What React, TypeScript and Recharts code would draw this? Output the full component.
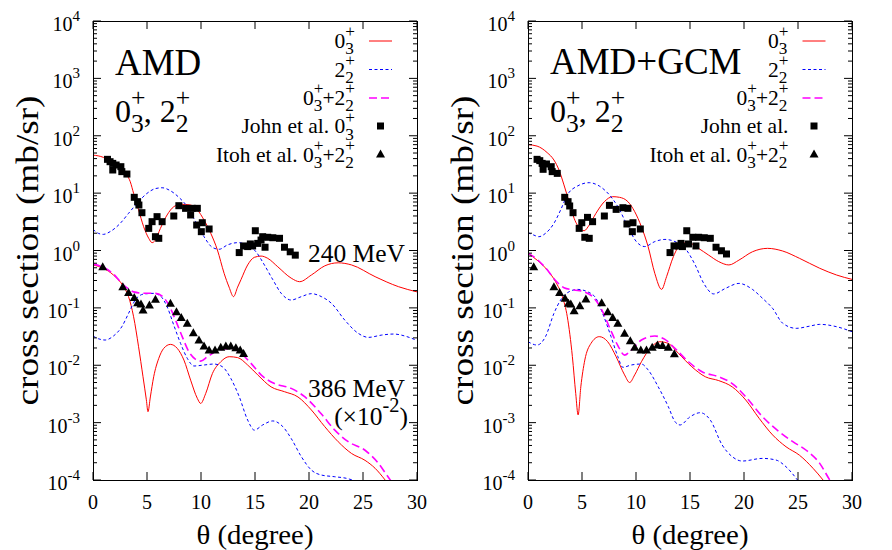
import React from "react";
import { ComposedChart, Line, Scatter, XAxis, YAxis } from "recharts";

type P = [number, number];

// ---- AMD panel ----
// 240 MeV, 0_3+ (red)
const amd240_0: P[] = [
  [0, 46], [0.96, 42], [1.89, 33], [2.67, 25.3], [3.14, 20.7], [3.45, 15.8], [3.76, 9.9], [4.22, 5.1],
  [4.69, 2.6], [5.16, 1.63], [5.47, 1.37], [5.78, 1.52], [6.24, 2.43], [6.86, 4.16], [7.48, 5.8], [8.11, 6.4],
  [9.04, 6.2], [9.66, 5.1], [10.28, 3.4], [10.9, 2.0], [11.52, 1.02], [12.14, 0.4], [12.6, 0.23], [13.01, 0.157],
  [13.39, 0.23], [13.7, 0.31], [14.32, 0.56], [14.94, 0.76], [15.56, 0.8], [16.18, 0.73], [17.11, 0.52],
  [18.35, 0.33], [19.13, 0.286], [20.22, 0.374], [21.46, 0.54], [22.7, 0.61], [23.94, 0.56], [26.12, 0.35],
  [28.29, 0.234], [30, 0.19],
];
// 240 MeV, 2_2+ (blue)
const amd240_2: P[] = [
  [0, 2.34], [0.5, 1.99], [0.96, 1.91], [1.58, 2.13], [2.52, 2.97], [3.29, 4.44], [4.07, 6.6], [5.0, 9.9],
  [5.78, 12], [6.4, 12.4], [7.17, 11], [7.95, 8.45], [8.73, 5.8], [9.5, 3.18], [10.28, 1.74], [11.06, 1.13],
  [11.68, 1.05], [12.45, 1.25], [13.39, 1.37], [14.32, 1.25], [15.09, 0.95], [15.87, 0.56], [16.65, 0.31],
  [17.42, 0.18], [18.35, 0.137], [19.29, 0.157], [20.22, 0.177], [21.15, 0.157], [22.08, 0.12], [23.32, 0.061],
  [24.56, 0.036], [25.5, 0.0306], [26.74, 0.0336], [27.83, 0.035], [29.07, 0.0315], [30, 0.027],
];
// 386 MeV (x1e-2), 0_3+
const amd386_0: P[] = [
  [0, 0.56], [0.96, 0.49], [1.89, 0.374], [2.83, 0.234], [3.29, 0.157], [3.76, 0.07], [4.22, 0.021],
  [4.63, 0.0063], [4.94, 0.0025], [5.09, 0.00155], [5.31, 0.0028], [5.62, 0.0063], [6.09, 0.0132],
  [6.55, 0.0197], [7.17, 0.0231], [7.8, 0.0197], [8.42, 0.0123], [9.04, 0.0055], [9.66, 0.00265],
  [9.97, 0.00216], [10.43, 0.0032], [11.06, 0.0072], [11.83, 0.0115], [12.61, 0.0141], [13.39, 0.0136],
  [14.32, 0.0101], [15.25, 0.0068], [16.49, 0.0042], [17.73, 0.00346], [18.98, 0.0028], [20.22, 0.00166],
  [21.46, 0.00085], [22.7, 0.000465], [23.94, 0.00029], [25.19, 0.00022], [26.12, 0.00016], [27.05, 0.0001],
  [27.98, 0.000058],
];
// 386 MeV, 2_2+
const amd386_2: P[] = [
  [0, 0.0323], [0.5, 0.029], [1.12, 0.0275], [1.89, 0.0323], [2.67, 0.047], [3.29, 0.08], [3.91, 0.137],
  [4.69, 0.174], [5.62, 0.179], [6.24, 0.161], [6.86, 0.105], [7.48, 0.05], [8.11, 0.024], [8.73, 0.0132],
  [9.35, 0.0097], [10.28, 0.0101], [11.21, 0.0105], [11.99, 0.0094], [12.76, 0.0059], [13.54, 0.00283],
  [14.32, 0.00111], [14.94, 0.00074], [15.71, 0.00091], [16.65, 0.00107], [17.58, 0.00085], [18.35, 0.00053],
  [19.29, 0.000255], [20.22, 0.000149], [21.15, 0.000122], [22.39, 0.000114], [23.63, 0.000105],
  [24.5, 0.00009], [25.5, 0.00005],
];
// 386 MeV, 0_3+ + 2_2+
const amd386_sum: P[] = [
  [0, 0.58], [0.96, 0.51], [1.89, 0.39], [2.83, 0.25], [3.29, 0.215], [3.76, 0.19], [4.69, 0.18], [5.78, 0.179],
  [6.4, 0.161], [7.02, 0.112], [7.64, 0.0614], [8.26, 0.0315], [8.88, 0.0172], [9.5, 0.0127], [9.97, 0.0118],
  [10.59, 0.0141], [11.52, 0.0179], [12.76, 0.0197], [13.7, 0.0161], [14.63, 0.0108], [15.56, 0.0068],
  [16.8, 0.0048], [18.35, 0.00395], [19.6, 0.00283], [21.15, 0.00141], [22.39, 0.00074], [23.63, 0.000465],
  [25.19, 0.00033], [26.43, 0.000195], [27.2, 0.000122], [27.98, 0.000076],
];
const johnAmd: P[] = [
  [1.34, 38.8], [1.58, 35.3], [1.83, 33], [1.83, 25.3], [2.14, 30.9], [2.58, 28.9], [2.67, 23.7], [3.14, 21.5],
  [3.82, 8.45], [4.13, 7.1], [4.25, 6.2], [4.53, 4.56], [5.16, 2.43], [5.47, 3.18], [5.78, 1.74], [5.93, 3.89],
  [6.09, 1.63], [6.4, 3.18], [7.48, 3.99], [7.95, 6.04], [8.57, 5.43], [9.04, 4.16], [9.19, 5.43], [9.66, 5.43],
  [9.6, 2.78], [10.12, 3.05], [10.03, 2.13], [10.75, 2.37], [13.54, 0.92], [13.94, 1.2], [14.32, 1.17],
  [14.57, 1.3], [14.78, 1.2], [15.03, 2.21], [15.25, 1.33], [15.56, 1.52], [15.71, 1.74], [15.93, 1.14],
  [16.18, 1.7], [16.65, 1.67], [17.27, 1.63], [17.73, 1.14], [18.26, 0.95], [18.73, 0.83],
];
const itohAmd: P[] = [
  [0.9, 0.52], [2.76, 0.234], [3.29, 0.186], [3.82, 0.152], [4.13, 0.123], [4.44, 0.117], [4.63, 0.092],
  [5.22, 0.112], [5.78, 0.141], [7.17, 0.12], [7.73, 0.086], [8.17, 0.068], [8.73, 0.054], [9.29, 0.037],
  [9.81, 0.0275], [10.28, 0.0216], [10.75, 0.0184], [11.3, 0.0184], [11.83, 0.0205], [12.3, 0.0216],
  [12.76, 0.0216], [13.23, 0.0202], [13.63, 0.0184], [13.94, 0.0161],
];

// ---- AMD+GCM panel ----
const gcm240_0: P[] = [
  [0, 70], [0.84, 66], [1.78, 50.7], [2.4, 37.8], [2.87, 25.3], [3.33, 13.9], [3.8, 7.1], [4.27, 3.64],
  [4.89, 2.34], [5.2, 2.21], [5.67, 2.78], [6.29, 4.44], [7.07, 7.1], [7.85, 8.67], [8.47, 8.45], [9.25, 7.1],
  [9.88, 4.75], [10.5, 2.6], [11.12, 1.17], [11.74, 0.4], [12.37, 0.21], [12.83, 0.35], [13.46, 0.78],
  [14.24, 1.33], [14.86, 1.37], [15.79, 1.09], [16.73, 0.83], [17.66, 0.64], [18.6, 0.56], [19.53, 0.68],
  [20.78, 0.95], [22.18, 1.09], [23.58, 0.98], [25.14, 0.73], [27.01, 0.49], [28.57, 0.374], [30, 0.314],
];
const gcm240_2: P[] = [
  [0, 2.05], [0.53, 1.86], [1.0, 1.74], [1.62, 1.99], [2.4, 2.97], [3.02, 5.08], [3.64, 9.3], [4.58, 13.3],
  [5.67, 15.2], [6.6, 13.3], [7.54, 9.3], [8.32, 5.8], [9.25, 2.6], [10.03, 1.43], [10.81, 1.17], [11.74, 1.43],
  [12.68, 1.56], [13.61, 1.43], [14.55, 1.09], [15.48, 0.56], [16.26, 0.27], [17.2, 0.175], [18.29, 0.219],
  [19.53, 0.267], [20.78, 0.21], [21.71, 0.147], [22.65, 0.098], [23.58, 0.054], [24.83, 0.044],
  [26.07, 0.048], [27.01, 0.0516], [28.57, 0.047], [30, 0.0385],
];
const gcm386_0: P[] = [
  [0, 0.89], [0.84, 0.68], [1.78, 0.457], [2.55, 0.286], [3.18, 0.157], [3.64, 0.07], [4.11, 0.0141],
  [4.42, 0.0032], [4.64, 0.00136], [4.89, 0.0042], [5.26, 0.0123], [5.83, 0.024], [6.6, 0.0315],
  [7.38, 0.0257], [8.16, 0.0141], [8.94, 0.0068], [9.41, 0.005], [9.88, 0.0068], [10.5, 0.0115],
  [11.43, 0.021], [12.21, 0.0257], [12.99, 0.024], [13.93, 0.0161], [15.17, 0.0094], [16.42, 0.0063],
  [17.66, 0.0054], [18.91, 0.0042], [20.16, 0.00248], [21.4, 0.00119], [22.65, 0.00061], [23.89, 0.00038],
  [25.14, 0.00027], [26.39, 0.00016], [27.32, 0.0001], [28.26, 0.000058],
];
const gcm386_2: P[] = [
  [0, 0.0257], [0.84, 0.0225], [1.62, 0.0315], [2.4, 0.08], [3.02, 0.137], [3.8, 0.191], [4.58, 0.21],
  [5.51, 0.191], [6.29, 0.147], [6.91, 0.08], [7.69, 0.0315], [8.32, 0.0141], [8.78, 0.0092], [9.56, 0.0101],
  [10.5, 0.0105], [11.12, 0.0083], [12.06, 0.0042], [12.99, 0.0019], [13.61, 0.00104], [14.08, 0.00091],
  [15.02, 0.00127], [15.95, 0.00149], [16.88, 0.00111], [17.97, 0.00041], [18.91, 0.000255],
  [19.84, 0.000214], [21.71, 0.000238], [22.96, 0.000223], [23.89, 0.00017], [24.83, 0.000107],
  [25.61, 0.000067],
];
const gcm386_sum: P[] = [
  [0, 0.9], [0.84, 0.7], [1.78, 0.46], [2.55, 0.3], [3.33, 0.225], [4.27, 0.205], [5.2, 0.191], [5.98, 0.157],
  [6.76, 0.098], [7.54, 0.046], [8.32, 0.022], [8.94, 0.015], [9.56, 0.0184], [10.5, 0.0275], [11.74, 0.0323],
  [12.68, 0.0282], [13.61, 0.0197], [14.86, 0.0115], [16.11, 0.0077], [17.66, 0.0063], [18.91, 0.0048],
  [20.16, 0.00283], [21.71, 0.00127], [23.27, 0.00069], [24.52, 0.000465], [25.76, 0.00033],
  [27.01, 0.000195], [27.94, 0.0001], [28.57, 0.000067],
];
const johnGcm: P[] = [
  [0.84, 38.8], [1.09, 36.8], [1.31, 33], [1.4, 26], [1.71, 32.2], [2.15, 28.9], [2.24, 23.7], [2.71, 22.1],
  [3.4, 8.45], [3.71, 7.1], [3.86, 5.97], [4.17, 4.56], [4.74, 2.43], [4.98, 3.05], [5.26, 1.7], [5.51, 3.78],
  [5.67, 1.63], [5.98, 3.18], [7.07, 3.99], [7.54, 6.12], [8.16, 5.21], [8.79, 5.57], [9.25, 5.43],
  [9.16, 2.9], [9.72, 3.05], [9.66, 2.13], [10.4, 2.37], [13.15, 0.92], [13.52, 1.2], [13.93, 1.2],
  [14.17, 1.33], [14.3, 1.17], [14.7, 2.21], [14.86, 1.3], [15.26, 1.7], [15.55, 1.2], [15.8, 1.7],
  [16.32, 1.67], [16.88, 1.63], [17.41, 1.14], [17.91, 0.99], [18.38, 0.87],
];
const itohGcm: P[] = [
  [0.53, 0.52], [2.4, 0.234], [2.93, 0.186], [3.43, 0.147], [3.74, 0.12], [3.96, 0.117], [4.27, 0.089],
  [4.8, 0.109], [5.36, 0.143], [6.82, 0.123], [7.38, 0.086], [7.85, 0.068], [8.32, 0.054], [8.94, 0.036],
  [9.47, 0.0268], [9.88, 0.0205], [10.44, 0.0184], [10.97, 0.0184], [11.5, 0.0205], [11.99, 0.0225],
  [12.46, 0.022], [12.99, 0.0205], [13.55, 0.0158],
];

const xTicks = [0, 5, 10, 15, 20, 25, 30];
const yExps = [-4, -3, -2, -1, 0, 1, 2, 3, 4];
const yTicks: number[] = [];
yExps.forEach((e) => {
  yTicks.push(Math.pow(10, e));
  if (e < 4) for (let m = 2; m <= 9; m++) yTicks.push(m * Math.pow(10, e));
});

const FONT = "'Liberation Serif', 'Times New Roman', Times, serif";
const PW = 324; // plot width
const PH = 459; // plot height
const RED = "#ff0000";
const BLUE = "#0000ff";
const MAG = "#ff00ff";

const pts = (a: P[]) => a.map(([x, y]) => ({ x, y }));

function YTick(props: any) {
  const { x, y, payload } = props;
  const v = payload.value;
  const lg = Math.log10(v);
  const major = Math.abs(lg - Math.round(lg)) < 1e-6;
  const edge = x + 8;
  const len = major ? 8 : 4;
  return (
    <g>
      <line x1={edge} x2={edge + len} y1={y} y2={y} stroke="#000" />
      <line x1={edge + PW - len} x2={edge + PW} y1={y} y2={y} stroke="#000" />
      {major && (
        <text x={edge - 13} y={y + 10} textAnchor="end" fontFamily={FONT} fontSize={20} fill="#000">
          10
          <tspan dy={-10} fontSize={15}>{Math.round(lg)}</tspan>
        </text>
      )}
    </g>
  );
}

function XTick(props: any) {
  const { x, y, payload } = props;
  return (
    <g>
      <line x1={x} x2={x} y1={y} y2={y - 8} stroke="#000" />
      <line x1={x} x2={x} y1={y - PH} y2={y - PH + 8} stroke="#000" />
      <text x={x} y={y + 29} textAnchor="middle" fontFamily={FONT} fontSize={20} fill="#000">
        {payload.value}
      </text>
    </g>
  );
}

const Sq = (p: any) => <rect x={p.cx - 3.5} y={p.cy - 3.5} width={7} height={7} fill="#000" />;
const Tri = (p: any) => (
  <polygon points={`${p.cx},${p.cy - 4.5} ${p.cx + 4.5},${p.cy + 3.5} ${p.cx - 4.5},${p.cy + 3.5}`} fill="#000" />
);

function Panel(props: any) {
  const { ml, mr, red240, blue240, red386, blue386, sum386, john, itoh } = props;
  return (
    <ComposedChart width={430} height={550} margin={{ top: 21, right: mr, bottom: 40, left: ml }}>
      <XAxis
        type="number"
        dataKey="x"
        domain={[0, 30]}
        ticks={xTicks}
        interval={0}
        tick={(p: any) => <XTick {...p} />}
        tickLine={false}
        axisLine={false}
        tickSize={0}
        tickMargin={0}
        height={30}
        allowDataOverflow
      />
      <YAxis
        type="number"
        dataKey="y"
        scale="log"
        domain={[1e-4, 1e4]}
        ticks={yTicks}
        interval={0}
        tick={(p: any) => <YTick {...p} />}
        tickLine={false}
        axisLine={false}
        tickSize={0}
        tickMargin={8}
        width={60}
        allowDataOverflow
      />
      <Line data={pts(red240)} dataKey="y" type="monotone" stroke={RED} strokeWidth={1} dot={false} isAnimationActive={false} />
      <Line data={pts(blue240)} dataKey="y" type="monotone" stroke={BLUE} strokeWidth={1} strokeDasharray="3 2.5" dot={false} isAnimationActive={false} />
      <Line data={pts(red386)} dataKey="y" type="monotone" stroke={RED} strokeWidth={1} dot={false} isAnimationActive={false} />
      <Line data={pts(blue386)} dataKey="y" type="monotone" stroke={BLUE} strokeWidth={1} strokeDasharray="3 2.5" dot={false} isAnimationActive={false} />
      <Line data={pts(sum386)} dataKey="y" type="monotone" stroke={MAG} strokeWidth={1.6} strokeDasharray="8 4" dot={false} isAnimationActive={false} />
      <Scatter data={pts(john)} dataKey="y" shape={Sq} isAnimationActive={false} />
      <Scatter data={pts(itoh)} dataKey="y" shape={Tri} isAnimationActive={false} />
    </ComposedChart>
  );
}

type Seg = string | { sup?: string; sub?: string };

function Rich({ x, y, fs, anchor = "start", segs }: { x: number; y: number; fs: number; anchor?: string; segs: Seg[] }) {
  const out: React.ReactNode[] = [];
  let shift = 0;
  const sf = fs * 0.8;
  segs.forEach((s, i) => {
    if (typeof s === "string") {
      out.push(<tspan key={i} fontSize={fs} dy={-shift}>{s}</tspan>);
      shift = 0;
    } else {
      if (s.sup) {
        out.push(<tspan key={i + "a"} fontSize={sf} dy={-fs * 0.5 - shift}>{s.sup}</tspan>);
        shift = -fs * 0.5;
      }
      if (s.sub) {
        const back = s.sup ? -sf * 0.564 * s.sup.length : 0;
        out.push(<tspan key={i + "b"} fontSize={sf} dx={back} dy={fs * 0.3 - shift}>{s.sub}</tspan>);
        shift = fs * 0.3;
      }
    }
  });
  return (
    <text x={x} y={y} textAnchor={anchor} fontFamily={FONT} fontSize={fs} fill="#000">
      {out}
    </text>
  );
}

function Legend({ right, john }: { right: number; john: Seg[] }) {
  const tx = right - 62;
  const l1 = right - 48;
  const l2 = right - 25;
  const mx = right - 36.5;
  const fs = 21.5;
  return (
    <g>
      <Rich x={tx} y={48} fs={fs} anchor="end" segs={["0", { sup: "+", sub: "3" }]} />
      <line x1={l1} x2={l2} y1={41} y2={41} stroke={RED} />
      <Rich x={tx} y={76.5} fs={fs} anchor="end" segs={["2", { sup: "+", sub: "2" }]} />
      <line x1={l1} x2={l2} y1={69.5} y2={69.5} stroke={BLUE} strokeDasharray="3 2.5" />
      <Rich x={tx} y={105} fs={fs} anchor="end" segs={["0", { sup: "+", sub: "3" }, "+2", { sup: "+", sub: "2" }]} />
      <line x1={l1} x2={l2} y1={98} y2={98} stroke={MAG} strokeWidth={1.6} strokeDasharray="8 4" />
      <Rich x={tx} y={133.3} fs={fs} anchor="end" segs={john} />
      <Sq cx={mx} cy={126} />
      <Rich x={tx} y={161.7} fs={fs} anchor="end" segs={["Itoh et al. 0", { sup: "+", sub: "3" }, "+2", { sup: "+", sub: "2" }]} />
      <Tri cx={mx} cy={154} />
    </g>
  );
}

export default function App() {
  const L = 93;
  const R = 528;
  return (
    <div style={{ position: "absolute", left: 0, top: 0, width: 892, height: 550, background: "#fff", overflow: "hidden" }}>
      <div style={{ position: "absolute", left: 0, top: 0 }}>
        <Panel ml={L - 60} mr={430 - L - PW} red240={amd240_0} blue240={amd240_2} red386={amd386_0}
          blue386={amd386_2} sum386={amd386_sum} john={johnAmd} itoh={itohAmd} />
      </div>
      <div style={{ position: "absolute", left: 440, top: 0 }}>
        <Panel ml={R - 440 - 60} mr={430 - (R - 440) - PW} red240={gcm240_0} blue240={gcm240_2} red386={gcm386_0}
          blue386={gcm386_2} sum386={gcm386_sum} john={johnGcm} itoh={itohGcm} />
      </div>
      <svg width={892} height={550} style={{ position: "absolute", left: 0, top: 0, pointerEvents: "none" }}>
        <rect x={L + 0.5} y={21.5} width={PW} height={PH} fill="none" stroke="#000" />
        <rect x={R + 0.5} y={21.5} width={PW} height={PH} fill="none" stroke="#000" />

        <Rich x={L + 22} y={75} fs={37} segs={["AMD"]} />
        <Rich x={L + 22} y={122} fs={32} segs={["0", { sup: "+", sub: "3" }, ", 2", { sup: "+", sub: "2" }]} />
        <Legend right={L + PW} john={["John et al. 0", { sup: "+", sub: "3" }]} />
        <Rich x={405} y={262} fs={25.5} anchor="end" segs={["240 MeV"]} />
        <Rich x={405} y={397} fs={25.5} anchor="end" segs={["386 MeV"]} />
        <Rich x={408} y={425} fs={25.5} anchor="end" segs={["(\u00d710", { sup: "-2" }, ")"]} />

        <Rich x={R + 22} y={74} fs={37} segs={["AMD+GCM"]} />
        <Rich x={R + 22} y={122} fs={32} segs={["0", { sup: "+", sub: "3" }, ", 2", { sup: "+", sub: "2" }]} />
        <Legend right={R + PW - 1.5} john={["John et al."]} />

        {[L, R].map((p) => (
          <g key={p}>
            <text
              transform={`translate(${p - 55},250.5) rotate(-90)`}
              textAnchor="middle"
              fontFamily={FONT}
              fontSize={31}
              textLength={310}
              lengthAdjust="spacingAndGlyphs"
            >
              cross section (mb/sr)
            </text>
            <text
              x={p + PW / 2}
              y={544}
              textAnchor="middle"
              fontFamily={FONT}
              fontSize={27}
              textLength={117}
              lengthAdjust="spacingAndGlyphs"
            >
              θ (degree)
            </text>
          </g>
        ))}
      </svg>
    </div>
  );
}
